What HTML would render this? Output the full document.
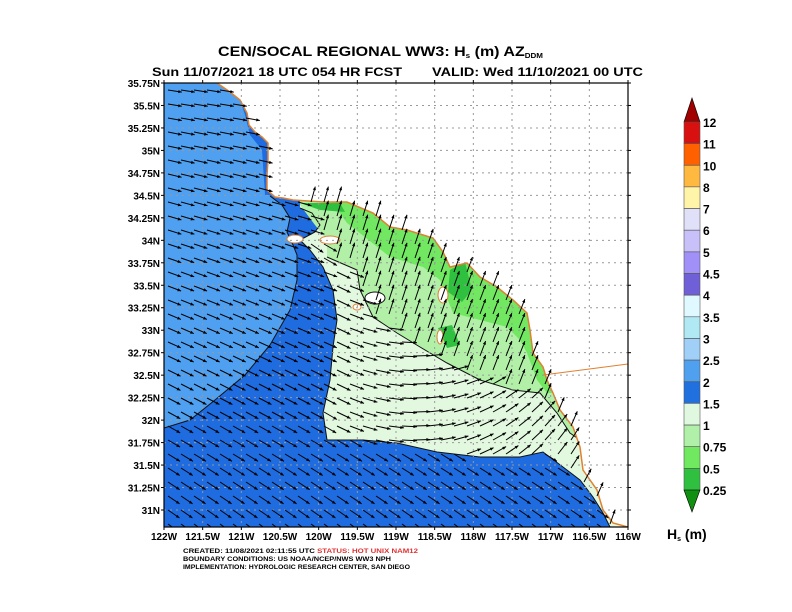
<!DOCTYPE html>
<html><head><meta charset="utf-8"><style>
html,body{margin:0;padding:0;background:#fff;}
body{width:792px;height:612px;overflow:hidden;position:relative;font-family:"Liberation Sans",Arial,sans-serif;}
svg{position:absolute;left:0;top:0;}
text{font-family:"Liberation Sans",Arial,sans-serif;font-weight:bold;}
</style></head><body>
<svg id="s" width="792" height="612" viewBox="0 0 792 612" xmlns="http://www.w3.org/2000/svg">
<defs><clipPath id="pc"><rect x="164" y="83" width="464" height="444"/></clipPath></defs>
<text x="218" y="56" font-size="14" textLength="325" lengthAdjust="spacingAndGlyphs">CEN/SOCAL REGIONAL WW3: H<tspan font-size="7" dy="2">s</tspan><tspan dy="-2"> (m) AZ</tspan><tspan font-size="7" dy="2">DDM</tspan></text>
<text x="152" y="76" font-size="12" textLength="250" lengthAdjust="spacingAndGlyphs">Sun 11/07/2021 18 UTC 054 HR FCST</text>
<text x="432" y="76" font-size="12" textLength="211" lengthAdjust="spacingAndGlyphs">VALID: Wed 11/10/2021 00 UTC</text>
<g clip-path="url(#pc)">
<rect x="164" y="83" width="464" height="444" fill="#4fa0f0"/>
<polygon fill="#1e6ce0" points="164,428 190,420 215,400 245,375 270,345 290,310 297,280 297,255 293,245 287,232 290,218 282,205 270,196 267,190 628,190 628,527 164,527"/>
<polygon fill="#1e6ce0" points="240,100 252,105 256,125 268,140 273,160 272,195 265,195 262,150 250,135 245,115"/>
<polygon fill="#e2f8df" points="300,201 330,190 628,190 628,527 610,527 603,513 593,497 580,480 563,467 543,452 520,457 480,457 437,452 397,443 363,440 327,440 323,413 330,380 333,347 337,320 333,290 323,267 310,250 300,240 315,232 320,225 312,213 300,208"/>
<polygon fill="#b2f0a8" points="300,205 315,225 327,240 327,257 357,270 360,290 373,317 397,333 420,347 447,363 480,380 513,390 540,393 557,413 570,433 580,440 600,440 600,380 560,300 480,240 380,190 300,195"/>
<polygon fill="#72e862" points="330,200 347,223 390,257 423,267 440,280 453,313 480,320 507,327 520,340 527,353 537,380 547,393 570,393 560,300 480,250 400,200"/>
<polygon fill="#30c040" points="450,270 465,262 472,290 462,302 448,292"/>
<polygon fill="#30c040" points="438,328 452,325 460,345 447,348"/>
<polygon fill="#30c040" points="300,203 340,203 345,212 320,210"/>
<polyline fill="none" stroke="#111" stroke-width="1" points="164,428 190,420 215,400 245,375 270,345 290,310 297,280 297,255 293,245 287,232 290,218 282,205 270,196"/>
<polyline fill="none" stroke="#111" stroke-width="1" points="300,208 312,213 320,225 315,232 300,240 310,250 323,267 333,290 337,320 333,347 330,380 323,413 327,440 363,440 397,443 437,452 480,457 520,457 543,452 563,467 580,480 593,497 603,513 610,527"/>
<polyline fill="none" stroke="#111" stroke-width="1" points="327,257 357,270 360,290 373,317 397,333 420,347 447,363 480,380 513,390 540,393 557,413 570,433 580,440"/>
<polygon fill="#fff" stroke="#e08030" stroke-width="1.5" points="217,83 230,92 240,100 247,113 249,125 255,132 262,137 268,143 268,160 267,175 267,190 275,197 283,198 293,200 323,202 347,202 373,213 390,227 407,230 433,238 443,252 450,267 467,263 480,277 497,287 513,300 527,313 530,330 533,353 543,367 547,380 553,393 560,410 573,427 580,447 583,470 597,490 603,510 613,523 628,527 640,527 640,70 217,70"/>
<polyline fill="none" stroke="#e08030" stroke-width="1" points="543,375 628,364"/>
<ellipse cx="295" cy="239" rx="8" ry="4" fill="#fff" stroke="#e08030"/>
<ellipse cx="330" cy="240" rx="10" ry="4" fill="#fff" stroke="#e08030"/>
<ellipse cx="443" cy="295" rx="5" ry="8" fill="#fff" stroke="#e08030"/>
<ellipse cx="440" cy="337" rx="3" ry="7" fill="#fff" stroke="#e08030"/>
<ellipse cx="357" cy="307" rx="4" ry="3" fill="#fff" stroke="#e08030"/>
<ellipse cx="375" cy="298" rx="10" ry="6" fill="#fff" stroke="#111"/>
<g id="grid" stroke="#999" stroke-width="1" stroke-dasharray="2,4" fill="none"></g>
<g id="arr" stroke="#000" stroke-width="1" fill="#000"></g>
</g>
<rect x="164" y="83" width="464" height="444" fill="none" stroke="#000" stroke-width="1.2"/>
<g id="ticks" stroke="#000" stroke-width="1"></g>
<g id="lbl" font-size="10"></g>
<text x="183" y="553" font-size="6.5" textLength="235" lengthAdjust="spacingAndGlyphs">CREATED: 11/08/2021 02:11:55 UTC <tspan fill="#e03030">STATUS: HOT UNIX NAM12</tspan></text>
<text x="183" y="561" font-size="6.5" textLength="208" lengthAdjust="spacingAndGlyphs">BOUNDARY CONDITIONS: US NOAA/NCEP/NWS WW3 NPH</text>
<text x="183" y="569" font-size="6.5" textLength="227" lengthAdjust="spacingAndGlyphs">IMPLEMENTATION: HYDROLOGIC RESEARCH CENTER, SAN DIEGO</text>
<g id="cb"></g>
<text x="667" y="539" font-size="14" font-weight="normal">H<tspan font-size="7" dy="2">s</tspan><tspan dy="-2"> (m)</tspan></text>
</svg>
<script>
var NS="http://www.w3.org/2000/svg";
function el(p,t,a,txt){var e=document.createElementNS(NS,t);for(var k in a)e.setAttribute(k,a[k]);if(txt!==undefined)e.textContent=txt;p.appendChild(e);return e;}
var L=164,R=628,T=83,B=527,dx=(R-L)/12,dy=(510-83)/19;
var grid=document.getElementById('grid'),ticks=document.getElementById('ticks'),lbl=document.getElementById('lbl');
var lons=["122W","121.5W","121W","120.5W","120W","119.5W","119W","118.5W","118W","117.5W","117W","116.5W","116W"];
for(var i=0;i<=12;i++){var x=L+i*dx;if(i>0&&i<12)el(grid,'line',{x1:x,y1:T,x2:x,y2:B});
el(ticks,'line',{x1:x,y1:B,x2:x,y2:B+3});el(ticks,'line',{x1:x,y1:T,x2:x,y2:T-3});
el(lbl,'text',{x:x,y:540,'text-anchor':'middle'},lons[i]);}
var lats=["35.75N","35.5N","35.25N","35N","34.75N","34.5N","34.25N","34N","33.75N","33.5N","33.25N","33N","32.75N","32.5N","32.25N","32N","31.75N","31.5N","31.25N","31N"];
for(var j=0;j<20;j++){var y=T+j*dy;if(j>0)el(grid,'line',{x1:L,y1:y,x2:R,y2:y});
el(ticks,'line',{x1:L-3,y1:y,x2:L,y2:y});el(ticks,'line',{x1:R,y1:y,x2:R+3,y2:y});
el(lbl,'text',{x:160,y:y+4,'text-anchor':'end'},lats[j]);}
function pip(p,x,y){var c=false;for(var i=0,j=p.length-1;i<p.length;j=i++){var xi=p[i][0],yi=p[i][1],xj=p[j][0],yj=p[j][1];if(((yi>y)!=(yj>y))&&(x<(xj-xi)*(y-yi)/(yj-yi)+xi))c=!c;}return c;}
function P(s){return s.trim().split(/\s+/).map(function(q){return q.split(',').map(Number);});}
var land=P("217,83 230,92 240,100 247,113 249,125 255,132 262,137 268,143 268,160 267,175 267,190 275,197 283,198 293,200 323,202 347,202 373,213 390,227 407,230 433,238 443,252 450,267 467,263 480,277 497,287 513,300 527,313 530,330 533,353 543,367 547,380 553,393 560,410 573,427 580,447 583,470 597,490 603,510 613,523 628,527 640,527 640,70 217,70");
var lg=P("300,201 330,190 628,190 628,527 610,527 603,513 593,497 580,480 563,467 543,452 520,457 480,457 437,452 397,443 363,440 327,440 323,413 330,380 333,347 337,320 333,290 323,267 310,250 300,240 315,232 320,225 312,213 300,208");
var mg=P("300,205 315,225 327,240 327,257 357,270 360,290 373,317 397,333 420,347 447,363 480,380 513,390 540,393 557,413 570,433 580,440 600,440 600,380 560,300 480,240 380,190 300,195");
var arr=document.getElementById('arr');
for(var y=90;y<527;y+=14){for(var x=168;x<628;x+=13){
 if(pip(land,x,y))continue;
 var a,len=14;
 if(pip(lg,x,y)){ if(pip(mg,x,y)){a=-74+(x-330)*0.03;len=16;} else {a=28-(x-330)/270*95;len=15;} }
 else {a=8+(y-83)/444*28;}
 var r=a*Math.PI/180,ex=x+len*Math.cos(r),ey=y+len*Math.sin(r);
 el(arr,'line',{x1:x.toFixed(1),y1:y,x2:ex.toFixed(1),y2:ey.toFixed(1)});
 var h=3.5,w=1.6,bx=ex-h*Math.cos(r),by=ey-h*Math.sin(r),nx=-Math.sin(r)*w,ny=Math.cos(r)*w;
 el(arr,'polygon',{points:ex.toFixed(1)+','+ey.toFixed(1)+' '+(bx+nx).toFixed(1)+','+(by+ny).toFixed(1)+' '+(bx-nx).toFixed(1)+','+(by-ny).toFixed(1),stroke:'none'});
}}
var cb=document.getElementById('cb');
var cols=["#d81010","#ff6000","#ffb840","#fff4a8","#e0e0f8","#c8c0f8","#a090f8","#7060d8","#e0f8ff","#b0e8f4","#a0d0f8","#50a0f0","#2070e0","#e0f8e0","#b0f0a8","#70e860","#30c040"];
var labs=["12","11","10","8","7","6","5","4.5","4","3.5","3","2.5","2","1.5","1","0.75","0.5","0.25"];
var cx=684,cw=16,ct=122,ch=(490-122)/17;
el(cb,'polygon',{points:cx+','+ct+' '+(cx+cw)+','+ct+' '+(cx+cw/2)+',98',fill:'#a00000',stroke:'#000','stroke-width':0.6});
for(var k=0;k<17;k++)el(cb,'rect',{x:cx,y:(ct+k*ch).toFixed(1),width:cw,height:ch.toFixed(1),fill:cols[k],stroke:'#555','stroke-width':0.6});
el(cb,'polygon',{points:cx+',490 '+(cx+cw)+',490 '+(cx+cw/2)+',512',fill:'#109010',stroke:'#000','stroke-width':0.6});
for(var k=0;k<18;k++)el(cb,'text',{x:703,y:(ct+k*ch+5).toFixed(1),'font-size':12,'font-weight':'bold'},labs[k]);
</script>
</body></html>
